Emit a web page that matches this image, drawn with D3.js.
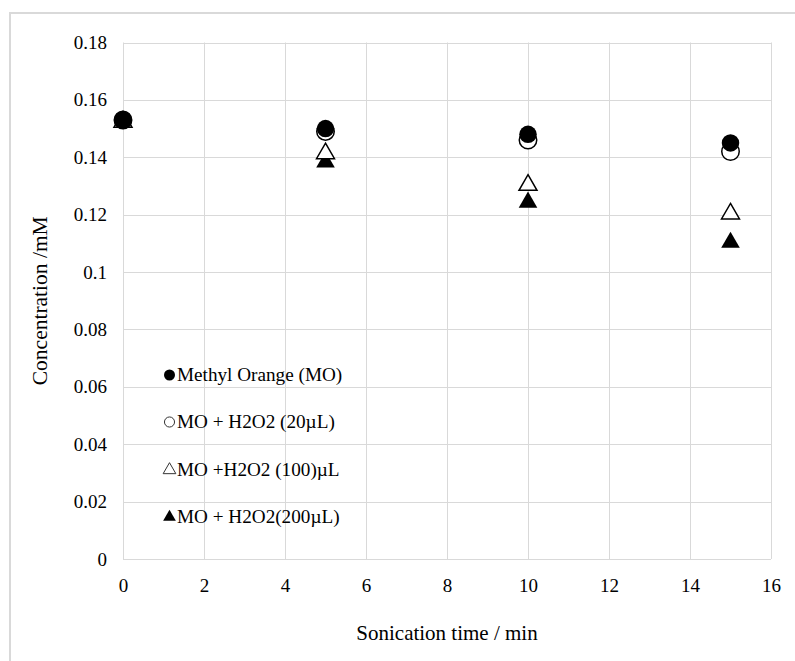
<!DOCTYPE html>
<html><head><meta charset="utf-8">
<script src="https://cdn.jsdelivr.net/npm/d3@7"></script>
</head><body style="margin:0">
<svg id="c" width="795" height="661"></svg>
<script>
const times = [0, 5, 10, 15];
const seriesNames = ["Methyl Orange (MO)", "MO + H2O2 (20\u00b5L)", "MO +H2O2 (100)\u00b5L", "MO + H2O2(200\u00b5L)"];
const mo = [0.153, 0.150, 0.148, 0.145];
const mo20 = [0.153, 0.149, 0.146, 0.142];
const mo100 = [0.153, 0.142, 0.131, 0.121];
const mo200 = [0.153, 0.139, 0.125, 0.111];
const xTicks = [0, 2, 4, 6, 8, 10, 12, 14, 16];
const yTicks = [0, 0.02, 0.04, 0.06, 0.08, 0.1, 0.12, 0.14, 0.16, 0.18];
const yTickLabels = ["0", "0.02", "0.04", "0.06", "0.08", "0.1", "0.12", "0.14", "0.16", "0.18"];
const xTitle = "Sonication time / min";
const yTitle = "Concentration /mM";

const FF = '"Liberation Serif"';
const svg = d3.select("#c").style("display","block");
const grid = "#d9d9d9";
const m = {l:123, r:771, t:42.5, b:559};
const x = d3.scaleLinear().domain([0,16]).range([m.l, m.r]);
const y = d3.scaleLinear().domain([0,0.18]).range([m.b, m.t]);

// outer frame
svg.append("rect").attr("x",10).attr("y",13).attr("width",820).attr("height",700)
  .attr("fill","none").attr("stroke",grid).attr("stroke-width",2);

// gridlines
svg.append("g").selectAll("line").data(xTicks).join("line")
  .attr("x1",d=>Math.round(x(d))+0.5).attr("x2",d=>Math.round(x(d))+0.5)
  .attr("y1",y(0.18)).attr("y2",y(0)).attr("stroke",grid).attr("stroke-width",1);
svg.append("g").selectAll("line").data(yTicks).join("line")
  .attr("y1",d=>Math.round(y(d))+0.5).attr("y2",d=>Math.round(y(d))+0.5)
  .attr("x1",x(0)).attr("x2",x(16)).attr("stroke",grid).attr("stroke-width",1);

// axes tick labels via d3 axes
const xa = svg.append("g").attr("transform",`translate(0,${m.b})`)
  .call(d3.axisBottom(x).tickValues(xTicks).tickSize(0).tickPadding(20).tickFormat(d3.format("d")));
const ya = svg.append("g").attr("transform",`translate(${m.l},0)`)
  .call(d3.axisLeft(y).tickValues(yTicks).tickSize(0).tickPadding(16).tickFormat((d,i)=>yTickLabels[i]));
[xa, ya].forEach(a=>{
  a.attr("font-family",FF).attr("font-size",19);
  a.select(".domain").remove();
  a.selectAll("text").style("font-family",FF).attr("font-size",19).attr("fill","#000");
});

// axis titles
svg.append("text").attr("x",(m.l+m.r)/2).attr("y",640).attr("text-anchor","middle")
  .style("font-family",FF).attr("font-size",21).attr("fill","#000").text(xTitle);
svg.append("text").attr("transform",`translate(47,${(m.t+m.b)/2}) rotate(-90)`).attr("text-anchor","middle")
  .style("font-family",FF).attr("font-size",21.5).attr("fill","#000").text(yTitle);

// markers
const tri = d3.symbol().type(d3.symbolTriangle).size(150)();
const tri2 = d3.symbol().type(d3.symbolTriangle).size(140)();
const circ = d3.symbol().type(d3.symbolCircle).size(240)();
const series = [
  {vals: mo200, path: tri, fill:"#000", stroke:"none", dy:2},
  {vals: mo100, path: tri2, fill:"#fff", stroke:"#000", dy:2},
  {vals: mo20, path: circ, fill:"#fff", stroke:"#000", dy:0},
  {vals: mo, path: circ, fill:"#000", stroke:"none", dy:0}
];
series.forEach(s=>{
  svg.append("g").selectAll("path").data(times.map((t,i)=>[t,s.vals[i]])).join("path")
    .attr("d",s.path).attr("transform",d=>`translate(${x(d[0])},${y(d[1])+s.dy})`)
    .attr("fill",s.fill).attr("stroke",s.stroke).attr("stroke-width",1.5);
});

// legend
const legSyms = [
  {path:d3.symbol().type(d3.symbolCircle).size(95)(), fill:"#000", stroke:"none"},
  {path:d3.symbol().type(d3.symbolCircle).size(80)(), fill:"#fff", stroke:"#333"},
  {path:d3.symbol().type(d3.symbolTriangle).size(70)(), fill:"#fff", stroke:"#333"},
  {path:d3.symbol().type(d3.symbolTriangle).size(70)(), fill:"#000", stroke:"none"}
];
const legBase = [381, 428, 476, 523];
seriesNames.forEach((n,i)=>{
  svg.append("path").attr("d",legSyms[i].path).attr("transform",`translate(169.5,${legBase[i]-6})`)
    .attr("fill",legSyms[i].fill).attr("stroke",legSyms[i].stroke).attr("stroke-width",1);
  svg.append("text").attr("x",177).attr("y",legBase[i])
    .style("font-family",FF).attr("font-size",19.2).attr("fill","#000").text(n);
});
</script>
</body></html>
